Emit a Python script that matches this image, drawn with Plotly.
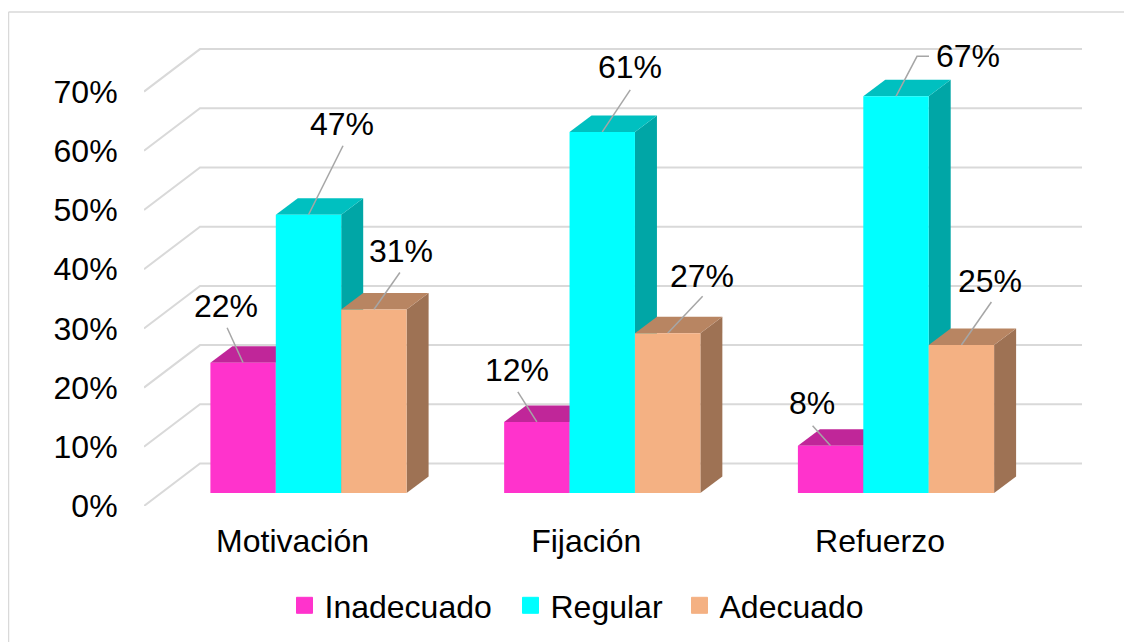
import plotly.graph_objects as go

# ---- data ----
categories = ["Motivación", "Fijación", "Refuerzo"]
series_names = ["Inadecuado", "Regular", "Adecuado"]
inadecuado = [22, 12, 8]
regular = [47, 61, 67]
adecuado = [31, 27, 25]
y_ticks = [0, 10, 20, 30, 40, 50, 60, 70]
y_tick_labels = ["0%", "10%", "20%", "30%", "40%", "50%", "60%", "70%"]

# ---- style ----
front_colors = ["#FF33CC", "#00FFFF", "#F4B183"]
top_colors = ["#C02699", "#00C0C0", "#B88562"]
side_colors = ["#A62185", "#00A6A6", "#9E7254"]
grid_color = "#D9D9D9"
leader_color = "#A6A6A6"
FONT = "Liberation Sans, Arial, sans-serif"
FS = 32

# ---- geometry: the page body has an 8 px margin, so the frame starts at (8, 8) ----
W, H = 1124, 634
PX_L, PX_R, PX_T, PX_B = 136, 1074, 4, 498   # plot box, in figure pixels
PX_PER_CAT = 293.75
PX_PER_PCT = 5.92
CAT0_PX = 300.5
def xu(px):
    return px / PX_PER_CAT
def yu(px):
    return px / PX_PER_PCT
x_range = [xu(PX_L - CAT0_PX), xu(PX_R - CAT0_PX)]
y_range = [0, yu(PX_B - PX_T)]
bar_w = xu(65.4)
bar_base = yu(13)
depth_x, depth_y = xu(22), yu(16.5)
wall_x, wall_y = xu(56), yu(42.5)
label_shift = xu(-16)

series = [inadecuado, regular, adecuado]

# label offsets in pixels from the top front centre of each bar:
# (label dx, label dy up, leader points...)
label_layout = {
    (0, 0): ((-17, 57), [(-16, 35)]),
    (0, 1): ((33.5, 91), [(34.5, 69)]),
    (0, 2): ((27, 58), [(26, 37)]),
    (1, 0): ((-20, 52), [(-19, 30)]),
    (1, 1): ((28, 65), [(28, 42)]),
    (1, 2): ((34, 57), [(35, 37)]),
    (2, 0): ((-19, 43), [(-18, 20)]),
    (2, 1): ((72, 40), [(21, 40), (33, 40)]),
    (2, 2): ((29, 64), [(30, 43)]),
}

fig = go.Figure()

# walls: left diagonal + back line for each tick
for v in y_ticks:
    fig.add_trace(go.Scatter(
        x=[x_range[0], x_range[0] + wall_x, x_range[1]],
        y=[v, v + wall_y, v + wall_y],
        mode="lines", line=dict(color=grid_color, width=2),
        showlegend=False, hoverinfo="skip"))

# sides and tops, painted left to right
for c in range(len(categories)):
    for s, vals in enumerate(series):
        xc = c + (s - 1) * bar_w
        xl, xr = xc - bar_w / 2, xc + bar_w / 2
        top = bar_base + vals[c]
        fig.add_trace(go.Scatter(
            x=[xr, xr + depth_x, xr + depth_x, xr, xr],
            y=[bar_base, bar_base + depth_y, top + depth_y, top, bar_base],
            mode="lines", fill="toself", fillcolor=side_colors[s],
            line=dict(width=0), showlegend=False, hoverinfo="skip"))
        fig.add_trace(go.Scatter(
            x=[xl, xl + depth_x, xr + depth_x, xr, xl],
            y=[top, top + depth_y, top + depth_y, top, top],
            mode="lines", fill="toself", fillcolor=top_colors[s],
            line=dict(width=0), showlegend=False, hoverinfo="skip"))

# leader lines and data labels
annotations = []
for c in range(len(categories)):
    for s, vals in enumerate(series):
        xc = c + (s - 1) * bar_w
        top = bar_base + vals[c]
        (ldx, ldy), pts = label_layout[(c, s)]
        fig.add_trace(go.Scatter(
            x=[xc] + [xc + xu(p[0]) for p in pts],
            y=[top] + [top + yu(p[1]) for p in pts],
            mode="lines", line=dict(color=leader_color, width=1.5),
            showlegend=False, hoverinfo="skip"))
        annotations.append(dict(
            x=xc, y=top, xref="x", yref="y", text=f"{vals[c]}%",
            showarrow=False, xshift=ldx, yshift=ldy,
            xanchor="center", yanchor="middle",
            font=dict(family=FONT, size=FS, color="#000000")))

# front faces: real bars on an overlay axis pair, so they sit above the sides
for s, vals in enumerate(series):
    fig.add_trace(go.Bar(
        x=[c + (s - 1) * bar_w for c in range(len(categories))],
        y=vals, base=[bar_base] * len(vals), width=bar_w,
        marker=dict(color=front_colors[s], line=dict(width=0)),
        xaxis="x2", yaxis="y2", showlegend=False, name=series_names[s]))

# legend entries, one legend each to match the spacing
legend_names = ["legend", "legend2", "legend3"]
legend_px = [276.5, 502.5, 671.5]
for s, name in enumerate(series_names):
    fig.add_trace(go.Scatter(
        x=[None], y=[None], mode="markers", name=name, legend=legend_names[s],
        marker=dict(symbol="square", size=16, color=front_colors[s],
                    line=dict(width=1, color=front_colors[s]))))

span_x, span_y = PX_R - PX_L, PX_B - PX_T
def legend_cfg(px):
    return dict(x=(px - PX_L) / span_x, y=(PX_B - 597.5) / span_y,
                xanchor="left", yanchor="middle", orientation="h",
                bgcolor="rgba(0,0,0,0)", borderwidth=0,
                font=dict(family=FONT, size=FS, color="#000000"))

layout = dict(
    width=W, height=H,
    margin=dict(l=PX_L, r=W - PX_R, t=PX_T, b=H - PX_B, autoexpand=False),
    paper_bgcolor="white", plot_bgcolor="white",
    barmode="overlay", showlegend=True,
    font=dict(family=FONT, size=FS, color="#000000"),
    xaxis=dict(range=x_range, tickmode="array",
               tickvals=[c + label_shift for c in range(len(categories))],
               ticktext=categories, showgrid=False, zeroline=False, showline=False,
               ticks="outside", ticklen=7, tickcolor="rgba(0,0,0,0)",
               tickfont=dict(family=FONT, size=FS, color="#000000")),
    yaxis=dict(range=y_range, tickmode="array", tickvals=y_ticks, ticktext=y_tick_labels,
               showgrid=False, zeroline=False, showline=False,
               ticks="outside", ticklen=19, tickcolor="rgba(0,0,0,0)",
               tickfont=dict(family=FONT, size=FS, color="#000000")),
    xaxis2=dict(range=x_range, overlaying="x", visible=False),
    yaxis2=dict(range=y_range, overlaying="y", visible=False),
    annotations=annotations,
    legend=legend_cfg(legend_px[0]),
    legend2=legend_cfg(legend_px[1]),
    legend3=legend_cfg(legend_px[2]),
    shapes=[
        dict(type="line", xref="paper", yref="paper",
             x0=(0.5 - PX_L) / span_x, x1=(W - PX_L) / span_x,
             y0=(PX_B - 4) / span_y, y1=(PX_B - 4) / span_y,
             line=dict(color=grid_color, width=1.5)),
        dict(type="line", xref="paper", yref="paper",
             x0=(0.5 - PX_L) / span_x, x1=(0.5 - PX_L) / span_x,
             y0=(PX_B - 4) / span_y, y1=(PX_B - H) / span_y,
             line=dict(color=grid_color, width=1.5)),
    ],
)
fig.update_layout(**layout)
fig.write_html("out.html", config=dict(displayModeBar=False))
